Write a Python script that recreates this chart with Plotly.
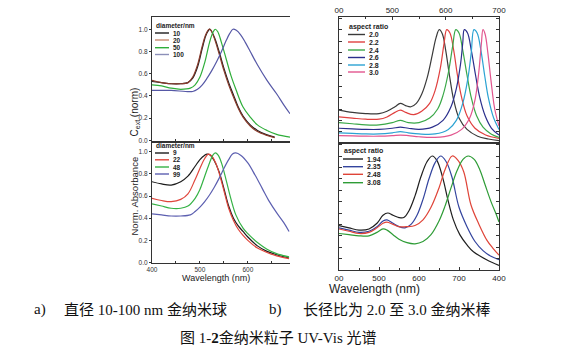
import plotly.graph_objects as go

W, H = 584, 361

# ---------------- data: panel a (spheres) ----------------
a_top_names = ["10", "20", "50", "100"]
a_top_x = [
    [400, 420, 440, 460, 475, 485, 495, 505, 512, 518, 521, 530, 540, 550, 560, 570, 580, 590, 605, 620, 640, 656],
    [400, 420, 440, 460, 475, 485, 495, 505, 512, 519, 523, 530, 540, 550, 560, 570, 580, 590, 605, 620, 640, 656],
    [400, 420, 440, 460, 480, 490, 500, 510, 520, 527, 532, 537, 545, 555, 565, 575, 590, 605, 620, 640, 660, 688],
    [400, 440, 470, 485, 495, 505, 515, 525, 535, 545, 555, 562, 569, 576, 585, 595, 605, 620, 640, 660, 675, 688],
]
a_top_y = [
    [.53, .52, .51, .51, .52, .56, .66, .83, .94, .99, 1.0, .93, .80, .65, .52, .41, .30, .22, .14, .09, .05, .03],
    [.54, .52, .51, .51, .52, .57, .68, .85, .95, 1.0, .99, .92, .78, .63, .50, .39, .29, .21, .13, .08, .045, .025],
    [.50, .49, .47, .46, .47, .50, .57, .70, .88, .97, 1.0, .98, .88, .73, .58, .46, .30, .21, .14, .09, .055, .03],
    [.45, .45, .44, .44, .46, .50, .56, .63, .71, .80, .90, .96, 1.0, .99, .95, .88, .80, .68, .54, .42, .32, .24],
]
a_bot_names = ["9", "22", "48", "99"]
a_bot_x = [
    [400, 420, 440, 460, 475, 490, 500, 510, 515, 522, 530, 540, 550, 560, 570, 580, 590, 600, 620, 640, 660, 686],
    [400, 420, 440, 460, 475, 490, 500, 510, 518, 525, 533, 540, 550, 560, 570, 580, 590, 600, 620, 640, 660, 686],
    [400, 420, 440, 460, 475, 490, 500, 510, 520, 527, 532, 538, 545, 555, 565, 575, 590, 600, 620, 640, 660, 686],
    [400, 420, 440, 460, 480, 490, 500, 510, 520, 530, 540, 550, 560, 568, 575, 585, 600, 615, 630, 645, 660, 675, 686],
]
a_bot_y = [
    [.73, .71, .70, .73, .78, .87, .93, .97, .98, .97, .92, .82, .67, .51, .40, .33, .28, .23, .15, .10, .07, .04],
    [.58, .56, .55, .57, .62, .75, .85, .94, .98, .96, .90, .81, .65, .49, .38, .30, .245, .20, .13, .09, .06, .035],
    [.53, .51, .49, .49, .51, .58, .66, .78, .90, .97, .99, .97, .90, .74, .57, .43, .31, .26, .18, .12, .08, .05],
    [.44, .43, .42, .42, .43, .46, .50, .55, .61, .68, .76, .85, .93, .98, .99, .97, .90, .79, .67, .55, .45, .36, .28],
]

# ---------------- data: panel b (rods) ----------------
b_top_names = ["2.0", "2.2", "2.4", "2.6", "2.8", "3.0"]
b_top_x = [
    [400, 425, 450, 475, 490, 505, 515, 525, 535, 545, 555, 565, 575, 582, 588, 594, 600, 607, 615, 625, 640, 660, 680, 700],
    [400, 425, 450, 475, 490, 505, 515, 525, 540, 555, 570, 580, 590, 597, 602, 608, 615, 622, 630, 640, 655, 675, 700],
    [400, 425, 450, 475, 500, 515, 530, 550, 570, 585, 595, 605, 613, 619, 625, 632, 640, 648, 658, 670, 685, 700],
    [400, 425, 450, 475, 500, 515, 530, 550, 575, 595, 610, 620, 628, 632, 635, 641, 648, 656, 664, 674, 686, 700],
    [400, 425, 450, 475, 500, 515, 530, 550, 580, 605, 620, 632, 642, 648, 653, 659, 666, 673, 680, 690, 700],
    [400, 425, 450, 475, 500, 515, 530, 550, 580, 610, 630, 645, 655, 662, 667, 670, 674, 679, 685, 692, 700],
]
b_top_y = [
    [.29, .27, .26, .26, .28, .32, .35, .33, .32, .35, .43, .57, .78, .93, 1.0, .96, .82, .60, .38, .22, .12, .06, .035, .02],
    [.23, .22, .21, .21, .23, .27, .29, .27, .25, .28, .35, .46, .66, .88, 1.0, .97, .82, .60, .40, .24, .13, .07, .04],
    [.18, .17, .16, .16, .18, .20, .18, .18, .22, .30, .42, .62, .85, 1.0, .97, .82, .60, .40, .24, .14, .08, .05],
    [.13, .125, .12, .12, .13, .14, .13, .12, .14, .20, .32, .48, .70, .88, 1.0, .97, .82, .60, .40, .24, .13, .07],
    [.09, .085, .08, .08, .09, .10, .09, .08, .08, .12, .20, .35, .58, .80, 1.0, .97, .82, .60, .40, .22, .12],
    [.065, .062, .06, .06, .065, .07, .065, .055, .05, .07, .12, .22, .38, .62, .88, 1.0, .96, .80, .55, .30, .15],
]
b_bot_names = ["1.94", "2.35", "2.48", "3.08"]
b_bot_x = [
    [400, 425, 450, 475, 495, 510, 522, 535, 550, 562, 575, 590, 605, 620, 633, 645, 660, 672, 686, 702, 720, 736, 769, 800],
    [400, 425, 450, 475, 495, 510, 520, 535, 550, 565, 580, 595, 610, 625, 640, 654, 668, 682, 700, 720, 740, 760, 780, 800],
    [400, 425, 450, 475, 495, 510, 520, 535, 550, 570, 590, 610, 630, 650, 665, 683, 698, 712, 730, 750, 770, 785, 800],
    [400, 425, 450, 475, 495, 510, 520, 535, 550, 570, 590, 610, 630, 650, 665, 680, 695, 710, 723, 738, 752, 765, 780, 795, 800],
]
b_bot_y = [
    [.39, .37, .35, .36, .41, .48, .50, .48, .46, .46, .52, .65, .82, .95, 1.0, .96, .80, .62, .44, .31, .22, .16, .09, .04],
    [.37, .35, .33, .34, .38, .43, .44, .41, .38, .37, .40, .48, .62, .80, .94, 1.0, .95, .82, .55, .38, .25, .17, .12, .09],
    [.36, .34, .32, .33, .37, .41, .42, .40, .38, .38, .39, .44, .55, .72, .88, 1.0, .96, .86, .57, .40, .26, .19, .13],
    [.32, .31, .30, .30, .33, .36, .35, .31, .27, .24, .23, .25, .31, .43, .56, .72, .87, .97, 1.0, .97, .88, .75, .60, .47, .42],
]

# tick labels
a_x_ticks = [400, 500, 600]
a_y_ticks = [0.0, 0.2, 0.4, 0.6, 0.8, 1.0]
a_y_ticktext = ["0.0", "0.2", "0.4", "0.6", "0.8", "1.0"]
b_top_ticks = [400, 500, 600, 700]
b_top_ticktext = ["00", "500", "600", "700"]
b_bot_ticks = [400, 500, 600, 700, 800]
b_bot_ticktext = ["00", "500", "600", "700", "400"]

# colours
a_top_colors = ["#1c1c1c", "#8a3b2c", "#2fae3a", "#5658a6"]
a_top_leg_colors = ["#1c1c1c", "#c98a70", "#2fae3a", "#8c8fb8"]
a_bot_colors = ["#1c1c1c", "#e0463c", "#35b245", "#5c5fb0"]
b_top_colors = ["#3a3a3a", "#e0403f", "#3aa848", "#2b2f8c", "#2ba3d3", "#e2558e"]
b_bot_colors = ["#1f1f1f", "#33449e", "#df4438", "#2e9c36"]


def px(x):
    return x / W


def py(y):
    return 1 - y / H


fig = go.Figure()

AX = dict(color="#333333", linecolor="#333333", linewidth=1.2, showgrid=False, zeroline=False,
          automargin=False, tickfont=dict(family="Liberation Sans, Arial", size=6.5, color="#333"))


def add_series(xs, ys, colors, names, xa, ya):
    for x, y, c, n in zip(xs, ys, colors, names):
        fig.add_trace(go.Scatter(x=x, y=y, mode="lines", name=n,
                                 line=dict(color=c, width=1.2, shape="spline", smoothing=1.0),
                                 xaxis=xa, yaxis=ya, showlegend=False, hoverinfo="skip"))


add_series(a_top_x, a_top_y, a_top_colors, a_top_names, "x", "y")
add_series(a_bot_x, a_bot_y, a_bot_colors, a_bot_names, "x2", "y2")
add_series(b_top_x, b_top_y, b_top_colors, b_top_names, "x3", "y3")
add_series(b_bot_x, b_bot_y, b_bot_colors, b_bot_names, "x4", "y4")

ax_a_x = [px(152), px(290)]
ax_b_x = [px(339), px(499)]
BTICK = dict(family="Liberation Sans, Arial", size=8, color="#222")

fig.update_layout(
    width=W, height=H, margin=dict(l=0, r=0, t=0, b=0), template="none",
    paper_bgcolor="white", plot_bgcolor="white", showlegend=False, hovermode=False,
    xaxis=dict(AX, domain=ax_a_x, range=[400, 688], anchor="y", mirror=True, showline=True,
               tickvals=[450, 500, 550, 600, 650], showticklabels=False, ticks="inside", ticklen=2),
    yaxis=dict(AX, domain=[py(141), py(17)], range=[-0.005, 1.11], anchor="x", showline=True,
               tickvals=a_y_ticks, ticktext=a_y_ticktext, ticks="outside", ticklen=2),
    xaxis2=dict(AX, domain=ax_a_x, range=[400, 688], anchor="y2", mirror=True, showline=True,
                tickvals=a_x_ticks, ticks="inside", ticklen=2,
                minor=dict(tickvals=[450, 550, 650], ticks="inside", ticklen=1.5, tickcolor="#333")),
    yaxis2=dict(AX, domain=[py(263), py(143)], range=[-0.005, 1.08], anchor="x2", showline=True,
                tickvals=a_y_ticks, ticktext=a_y_ticktext, ticks="outside", ticklen=2),
    xaxis3=dict(AX, domain=ax_b_x, range=[400, 700], anchor="y3", side="top", mirror=True, showline=True,
                tickvals=b_top_ticks, ticktext=b_top_ticktext, ticks="inside", ticklen=3, tickfont=BTICK,
                minor=dict(tickvals=[450, 550, 650], ticks="inside", ticklen=2, tickcolor="#333")),
    yaxis3=dict(AX, domain=[py(143), py(17)], range=[0, 1.112], anchor="x3", mirror="ticks", showline=True,
                dtick=0.1, tick0=0, showticklabels=False, ticks="inside", ticklen=3),
    xaxis4=dict(AX, domain=ax_b_x, range=[400, 800], anchor="y4", mirror=True, showline=True,
                tickvals=b_bot_ticks, ticktext=b_bot_ticktext, ticks="inside", ticklen=3, tickfont=BTICK,
                minor=dict(tickvals=[450, 550, 650, 750], ticks="inside", ticklen=2, tickcolor="#333")),
    yaxis4=dict(AX, domain=[py(270), py(143)], range=[0, 1.114], anchor="x4", mirror="ticks", showline=True,
                dtick=0.1, tick0=0, showticklabels=False, ticks="inside", ticklen=3),
)

shapes = []
annotations = []
LEGFONT = "Liberation Sans, Arial"


def draw_legend(x0, title_y, ys, names, colors, length, size, title):
    annotations.append(dict(x=px(x0), y=py(title_y), xref="paper", yref="paper", text="<b>%s</b>" % title,
                            showarrow=False, xanchor="left", yanchor="middle", borderpad=0,
                            font=dict(family=LEGFONT, size=size, color="#222")))
    for yy, n, c in zip(ys, names, colors):
        shapes.append(dict(type="line", xref="paper", yref="paper", x0=px(x0), x1=px(x0 + length),
                           y0=py(yy), y1=py(yy), line=dict(color=c, width=1.4)))
        annotations.append(dict(x=px(x0 + length + 3), y=py(yy), xref="paper", yref="paper",
                                text="<b>%s</b>" % n, showarrow=False, xanchor="left", yanchor="middle",
                                borderpad=0, font=dict(family=LEGFONT, size=size, color="#222")))


draw_legend(155, 25, [33, 40, 47.7, 54.5], a_top_names, a_top_leg_colors, 14, 6.5, "diameter/nm")
draw_legend(155, 145.5, [153, 159.8, 167, 174], a_bot_names, a_bot_colors, 14, 6.5, "diameter/nm")
draw_legend(348, 27, [34.5, 42, 50, 57.5, 65, 72], b_top_names, b_top_colors, 17, 7, "aspect ratio")
draw_legend(343, 151, [159, 166.7, 174.3, 182.7], b_bot_names, b_bot_colors, 20, 7, "aspect ratio")

TITLEFONT = dict(family="Liberation Sans, Arial", color="#222")
annotations += [
    dict(x=px(127), y=py(87), xref="paper", yref="paper", text="C<sub>ext</sub> (norm)", textangle=-90,
         showarrow=False, borderpad=0, font=dict(TITLEFONT, size=10)),
    dict(x=px(127), y=py(196), xref="paper", yref="paper", text="Norm. Absorbance", textangle=-90,
         showarrow=False, borderpad=0, font=dict(TITLEFONT, size=9.5)),
    dict(x=px(216), y=py(283.5), xref="paper", yref="paper", text="Wavelength (nm)",
         showarrow=False, borderpad=0, font=dict(TITLEFONT, size=9)),
    dict(x=px(421), y=py(296.5), xref="paper", yref="paper", text="Wavelength (nm)",
         showarrow=False, borderpad=0, font=dict(TITLEFONT, size=12)),
]

CAP = dict(family="Liberation Serif, Noto Sans CJK SC", size=15, color="#111")
annotations += [
    dict(x=px(32), y=py(320), xref="paper", yref="paper", text="a)", showarrow=False, xanchor="left", font=CAP),
    dict(x=px(62), y=py(320), xref="paper", yref="paper", text="直径 10-100 nm 金纳米球", showarrow=False,
         xanchor="left", font=CAP),
    dict(x=px(267), y=py(320), xref="paper", yref="paper", text="b)", showarrow=False, xanchor="left", font=CAP),
    dict(x=px(301), y=py(320), xref="paper", yref="paper", text="长径比为 2.0 至 3.0 金纳米棒", showarrow=False,
         xanchor="left", font=CAP),
    dict(x=px(278), y=py(348), xref="paper", yref="paper", text="图 1-<b>2</b>金纳米粒子 UV-Vis 光谱",
         showarrow=False, xanchor="center", font=CAP),
]

fig.update_layout(shapes=shapes, annotations=annotations)
# remove the browser's default 8px body margin so the figure starts at the page corner
fig.write_html("out.html", config={"displayModeBar": False},
               post_script="document.body.style.margin='0px';")
